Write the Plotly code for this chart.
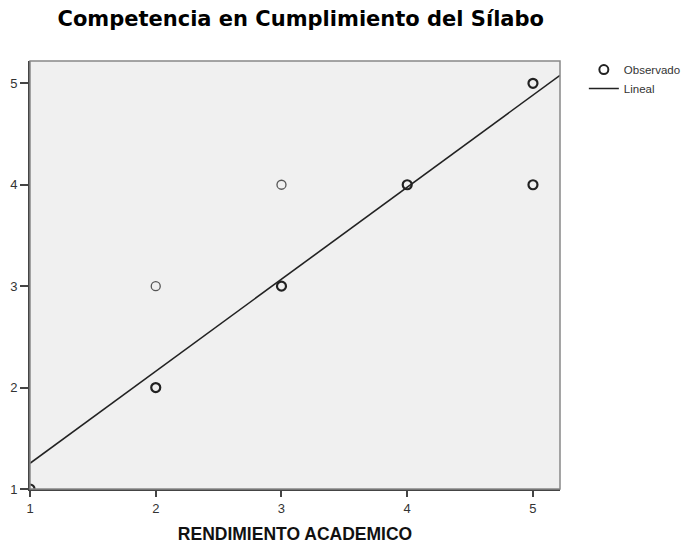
import plotly.graph_objects as go

# --- Datos observados (RENDIMIENTO ACADEMICO vs Competencia) ---
rendimiento = [1, 2, 2, 3, 3, 4, 5, 5]
competencia = [1, 2, 3, 3, 4, 4, 4, 5]
# puntos repetidos se ven más gruesos en el original
grosor = [2.2, 2.2, 1.3, 2.2, 1.3, 2.2, 2.2, 2.2]
color_pt = ['#222', '#222', '#555', '#222', '#555', '#222', '#222', '#222']

# --- Ajuste lineal (extremos) ---
lineal_x = [1, 5.215]
lineal_y = [1.253, 5.079]

x_ticks = [1, 2, 3, 4, 5]
y_ticks = [1, 2, 3, 4, 5]

fig = go.Figure()

fig.add_trace(go.Scatter(
    x=rendimiento, y=competencia,
    mode='markers',
    name='Observado',
    marker=dict(symbol='circle-open', size=9, color=color_pt,
                line=dict(width=grosor, color=color_pt)),
))

fig.add_trace(go.Scatter(
    x=lineal_x, y=lineal_y,
    mode='lines',
    name='Lineal',
    line=dict(color='#222', width=1.6),
))

# la página html tiene 8px de margen en el body -> figura de 684x536
fig.update_layout(
    width=684, height=536,
    margin=dict(l=22, r=132, t=53, b=55, autoexpand=False),
    paper_bgcolor='white',
    plot_bgcolor='#f0f0f0',
    title=dict(text='<b>Competencia en Cumplimiento del Sílabo</b>',
               x=0.428, xanchor='center', y=0.981, yanchor='middle',
               font=dict(family='DejaVu Sans', size=21, color='black')),
    font=dict(family='Liberation Sans, Arial', size=13, color='#333'),
    showlegend=True,
    legend=dict(x=1.045, y=1.014, xanchor='left', yanchor='top',
                bgcolor='rgba(0,0,0,0)', tracegroupgap=0,
                font=dict(size=11.5, color='#333'), itemwidth=30),
    shapes=[dict(type='rect', xref='paper', yref='paper', x0=0, y0=0, x1=1, y1=1,
                 line=dict(color='#888', width=1.5), layer='above')],
)

fig.update_xaxes(
    range=[1, 5.215], tickvals=x_ticks, showgrid=False, zeroline=False,
    showline=True, linecolor='#444', linewidth=2, automargin=False,
    ticks='outside', ticklen=6, tickwidth=2, tickcolor='#444',
    title=dict(text='<b>RENDIMIENTO ACADEMICO</b>', standoff=15,
               font=dict(family='Liberation Sans, Arial', size=17.5, color='#111')),
)
fig.update_yaxes(
    range=[1, 5.22], tickvals=y_ticks, showgrid=False, zeroline=False,
    showline=True, linecolor='#444', linewidth=2, automargin=False,
    ticks='outside', ticklen=8, tickwidth=2, tickcolor='#444',
)

fig.write_html('out.html')
